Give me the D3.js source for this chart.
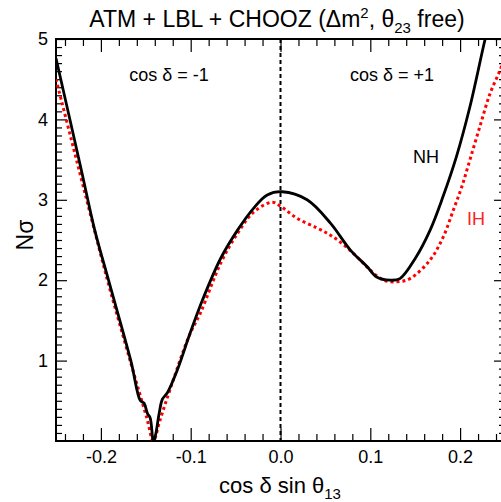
<!DOCTYPE html>
<html>
<head>
<meta charset="utf-8">
<script src="https://cdn.jsdelivr.net/npm/d3@7"></script>
<style>
body { margin: 0; background: #fff; }
svg text { font-family: "Liberation Sans", Arial, sans-serif; }
</style>
</head>
<body>
<script>
// Chart size
var w = 501;
var h = 502;

// Data: [cos d sin t13, N sigma]
var nhCurve = [
    [-0.25, 4.76], [-0.222, 3.38], [-0.207, 2.63], [-0.1915, 2.0], [-0.1667, 1.0],
    [-0.156, 0.5], [-0.152, 0.47], [-0.1481, 0.34], [-0.1452, 0.29], [-0.1426, 0.05],
    [-0.142, 0.0], [-0.1397, 0.05], [-0.1352, 0.34], [-0.1315, 0.52], [-0.126, 0.6],
    [-0.115, 0.88], [-0.101, 1.33], [-0.087, 1.75], [-0.0667, 2.27], [-0.048, 2.62],
    [-0.0296, 2.9], [-0.0148, 3.06], [0.002, 3.1], [0.0296, 3.0], [0.0556, 2.71],
    [0.0778, 2.375], [0.0963, 2.17], [0.107, 2.04], [0.122, 2.0], [0.133, 2.02],
    [0.15, 2.27], [0.1665, 2.62], [0.181, 3.04], [0.196, 3.54], [0.211, 4.16],
    [0.2277, 4.99], [0.24, 5.55]
];
var ihCurve = [
    [-0.25, 4.5], [-0.2044, 2.5], [-0.1915, 1.95], [-0.1667, 0.97], [-0.149, 0.29],
    [-0.1415, 0.0], [-0.135, 0.23], [-0.126, 0.54], [-0.102, 1.3], [-0.0889, 1.6],
    [-0.0667, 2.21], [-0.048, 2.58], [-0.0296, 2.85], [-0.0093, 2.97], [0.0, 2.92],
    [0.0185, 2.77], [0.0407, 2.65], [0.0556, 2.56], [0.0704, 2.44], [0.0852, 2.29],
    [0.1, 2.125], [0.1148, 2.0], [0.1296, 1.98], [0.1442, 2.02], [0.1665, 2.25],
    [0.1813, 2.54], [0.1924, 2.87], [0.2018, 3.16], [0.211, 3.5], [0.222, 3.91],
    [0.2333, 4.32], [0.2444, 4.61], [0.25, 4.78]
];
var xTicks = [-0.2, -0.1, 0.0, 0.1, 0.2];
var yTicks = [1, 2, 3, 4, 5];

// Scales
var xScale = d3.scaleLinear().domain([-0.25, 0.25]).range([56, 505]);
var yScale = d3.scaleLinear().domain([0, 5]).range([441, 39]);

var svg = d3.select("body").append("svg")
    .attr("width", w)
    .attr("height", h);

svg.append("defs").append("clipPath").attr("id", "plot")
    .append("rect")
    .attr("x", 56).attr("y", 39)
    .attr("width", 449).attr("height", 402);

// minor tick positions
var xMinor = d3.range(-0.24, 0.2501, 0.02).filter(function(v) {
    return Math.abs(v * 10 - Math.round(v * 10)) > 1e-6;
});
var yMinor = d3.range(0.1, 5, 0.1).filter(function(v) {
    return Math.abs(v - Math.round(v)) > 1e-6;
});

function styleAxis(g) {
    g.select(".domain").remove();
    g.selectAll("line").attr("stroke", "#000").attr("stroke-width", 1.2);
    g.selectAll("text").attr("font-size", "18px").attr("fill", "#000")
        .attr("font-family", "Liberation Sans, Arial, sans-serif");
}

// bottom axis
svg.append("g").attr("transform", "translate(0,441)")
    .call(d3.axisBottom(xScale).tickValues(xTicks).tickSize(-13).tickPadding(9)
        .tickFormat(d3.format(".1f")))
    .call(styleAxis)
    .selectAll("text").text(function(d) { return d3.format(".1f")(d).replace("−", "-"); });
svg.append("g").attr("transform", "translate(0,441)")
    .call(d3.axisBottom(xScale).tickValues(xMinor).tickSize(-7).tickFormat(""))
    .call(styleAxis);
// top axis
svg.append("g").attr("transform", "translate(0,39)")
    .call(d3.axisTop(xScale).tickValues(xTicks).tickSize(-13).tickFormat(""))
    .call(styleAxis);
svg.append("g").attr("transform", "translate(0,39)")
    .call(d3.axisTop(xScale).tickValues(xMinor).tickSize(-7).tickFormat(""))
    .call(styleAxis);
// left axis
svg.append("g").attr("transform", "translate(56,0)")
    .call(d3.axisLeft(yScale).tickValues(yTicks).tickSize(-11).tickPadding(8)
        .tickFormat(d3.format("d")))
    .call(styleAxis);
svg.append("g").attr("transform", "translate(56,0)")
    .call(d3.axisLeft(yScale).tickValues(yMinor).tickSize(-6).tickFormat(""))
    .call(styleAxis);
// right axis
svg.append("g").attr("transform", "translate(505,0)")
    .call(d3.axisRight(yScale).tickValues(yTicks).tickSize(-11).tickFormat(""))
    .call(styleAxis);
svg.append("g").attr("transform", "translate(505,0)")
    .call(d3.axisRight(yScale).tickValues(yMinor).tickSize(-6).tickFormat(""))
    .call(styleAxis);

// frame
svg.append("rect")
    .attr("x", 56).attr("y", 39)
    .attr("width", 449).attr("height", 402)
    .attr("fill", "none").attr("stroke", "#000").attr("stroke-width", 2);

// vertical dashed line at zero
svg.append("line")
    .attr("x1", xScale(0)).attr("x2", xScale(0))
    .attr("y1", yScale(5)).attr("y2", yScale(0))
    .attr("stroke", "#000").attr("stroke-width", 2)
    .attr("stroke-dasharray", "4,3");

var line = d3.line()
    .x(function(d) { return xScale(d[0]); })
    .y(function(d) { return yScale(d[1]); })
    .curve(d3.curveCatmullRom);

var plot = svg.append("g").attr("clip-path", "url(#plot)");
plot.append("path").datum(ihCurve)
    .attr("d", line)
    .attr("fill", "none").attr("stroke", "#ff0000")
    .attr("stroke-width", 3).attr("stroke-dasharray", "3,3");
plot.append("path").datum(nhCurve)
    .attr("d", line)
    .attr("fill", "none").attr("stroke", "#000")
    .attr("stroke-width", 2.8);

// labels
svg.append("text").attr("x", 169).attr("y", 81)
    .attr("text-anchor", "middle").attr("font-size", "18px")
    .text("cos δ = -1");
svg.append("text").attr("x", 392).attr("y", 81)
    .attr("text-anchor", "middle").attr("font-size", "18px")
    .text("cos δ = +1");
svg.append("text").attr("x", 413).attr("y", 163)
    .attr("font-size", "18px").text("NH");
svg.append("text").attr("x", 467).attr("y", 225)
    .attr("font-size", "18px").attr("fill", "#ff2020").text("IH");

// title
var title = svg.append("text").attr("x", 277).attr("y", 27)
    .attr("text-anchor", "middle").attr("font-size", "23px");
title.append("tspan").text("ATM + LBL + CHOOZ (Δm");
title.append("tspan").attr("font-size", "15px").attr("dy", -9).text("2");
title.append("tspan").attr("dy", 9).text(", θ");
title.append("tspan").attr("font-size", "15px").attr("dy", 6).text("23");
title.append("tspan").attr("dy", -6).text(" free)");

// x label
var xl = svg.append("text").attr("x", 280).attr("y", 493)
    .attr("text-anchor", "middle").attr("font-size", "22px");
xl.append("tspan").text("cos δ sin θ");
xl.append("tspan").attr("font-size", "15px").attr("dy", 6).text("13");

// y label
svg.append("text")
    .attr("transform", "translate(33,235) rotate(-90)")
    .attr("text-anchor", "middle").attr("font-size", "23px")
    .text("Nσ");
</script>
</body>
</html>
